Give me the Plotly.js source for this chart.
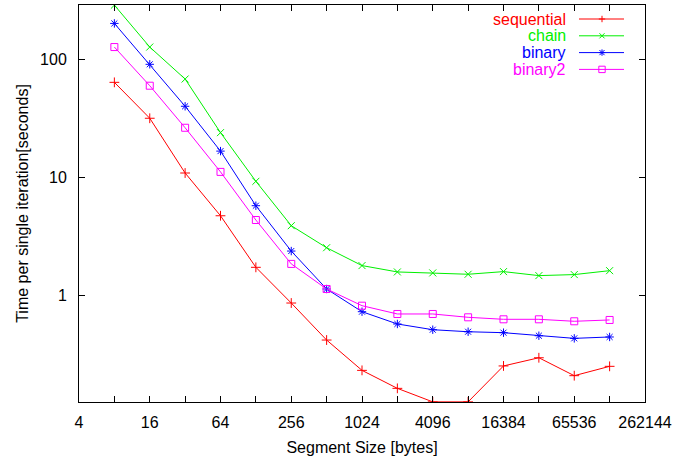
<!DOCTYPE html>
<html><head><meta charset="utf-8">
<script src="https://cdn.plot.ly/plotly-3.0.1.min.js"></script>
<style>html,body{margin:0;padding:0;background:#fff}</style>
</head><body><div id="chart" style="width:688px;height:456px"></div>
<script>
const segmentSizes = [8,16,32,64,128,256,512,1024,2048,4096,8192,16384,32768,65536,131072];
const sequential = [64.3,31.9,10.96,4.76,1.74,0.867,0.421,0.233,0.164,0.126,0.126,0.254,0.298,0.210,0.252];
const chain      = [290,128,68.6,24.1,9.32,3.92,2.55,1.80,1.59,1.56,1.52,1.60,1.48,1.51,1.63];
const binary     = [203,91.4,40.3,16.8,5.79,2.39,1.14,0.732,0.576,0.515,0.495,0.486,0.458,0.435,0.447];
const binary2    = [128,60.2,26.5,11.2,4.38,1.86,1.14,0.823,0.700,0.700,0.656,0.631,0.631,0.607,0.623];
const seriesNames = ['sequential','chain','binary','binary2'];
const seriesColors = ['#ff0000','#00f000','#0000ff','#ff00ff'];
const seriesSymbols = ['cross-thin-open','x-thin-open','asterisk-open','square-open'];
const xTickVals = [4,8,16,32,64,128,256,512,1024,2048,4096,8192,16384,32768,65536,131072,262144];
const xTickText = ['4','','16','','64','','256','','1024','','4096','','16384','','65536','','262144'];
const yTickVals = [1,10,100];
const yTickText = ['1','10','100'];

const allSeries = [sequential, chain, binary, binary2];
const traces = allSeries.map((ys,i)=>({
  x: segmentSizes, y: ys, type:'scatter', mode:'lines+markers', name: seriesNames[i],
  line:{color:seriesColors[i], width:1},
  marker:{symbol:seriesSymbols[i], size:7, color:seriesColors[i], line:{color:seriesColors[i], width:1}},
  showlegend:false
}));

// plot area in pixels
const L=79, R=645, T=5, B=402;
const W=688, H=456;
const px2x = p => (p-L)/(R-L);
const py2y = p => 1-(p-T)/(B-T);

const shapes=[]; const annotations=[];
const rowY0=19, rowStep=16.8, textRight=568, lineA=579, lineB=624, mk=602, s=3.2;
seriesNames.forEach((nm,i)=>{
  const yy = rowY0 + i*rowStep;
  const c = seriesColors[i];
  annotations.push({xref:'paper',yref:'paper',x:px2x(textRight),y:py2y(yy),xanchor:'right',yanchor:'middle',
    text:nm,showarrow:false,font:{family:'Liberation Sans, Arial, sans-serif',size:16,color:c}});
  shapes.push({type:'line',xref:'paper',yref:'paper',x0:px2x(lineA),x1:px2x(lineB),y0:py2y(yy),y1:py2y(yy),line:{color:c,width:1}});
  const ln=(x0,y0,x1,y1)=>shapes.push({type:'line',xref:'paper',yref:'paper',x0:px2x(x0),x1:px2x(x1),y0:py2y(y0),y1:py2y(y1),line:{color:c,width:1}});
  const sym = seriesSymbols[i];
  if(sym.startsWith('cross')||sym.startsWith('asterisk')){ln(mk-s,yy,mk+s,yy);ln(mk,yy-s,mk,yy+s);}
  if(sym.startsWith('x')||sym.startsWith('asterisk')){ln(mk-s*0.8,yy-s*0.8,mk+s*0.8,yy+s*0.8);ln(mk-s*0.8,yy+s*0.8,mk+s*0.8,yy-s*0.8);}
  if(sym.startsWith('square')){shapes.push({type:'rect',xref:'paper',yref:'paper',x0:px2x(mk-s),x1:px2x(mk+s),y0:py2y(yy-s),y1:py2y(yy+s),line:{color:c,width:1}});}
});

const font = {family:'Liberation Sans, Arial, Helvetica, sans-serif', size:16, color:'#000'};
const layout = {
  width:W, height:H,
  margin:{l:L, r:W-R, t:T, b:H-B, pad:0},
  paper_bgcolor:'#fff', plot_bgcolor:'#fff',
  font: font,
  showlegend:false,
  xaxis:{type:'log', range:[Math.log10(4), Math.log10(262144)], tickvals:xTickVals, ticktext:xTickText,
    ticks:'inside', ticklen:6, tickcolor:'#000', showline:true, linecolor:'#000', linewidth:1, mirror:'ticks',
    showgrid:false, zeroline:false, tickfont:{size:16}, ticklabelstandoff:6,
    title:{text:'Segment Size [bytes]', font:{size:16}, standoff:12}},
  yaxis:{type:'log', range:[-0.9008, 2.4636], tickvals:yTickVals, ticktext:yTickText,
    ticks:'inside', ticklen:6, tickcolor:'#000', showline:true, linecolor:'#000', linewidth:1, mirror:'ticks',
    showgrid:false, zeroline:false, tickfont:{size:16}, ticklabelstandoff:8,
    title:{text:'Time per single iteration[seconds]', font:{size:16}, standoff:7}},
  shapes: shapes, annotations: annotations
};
Plotly.newPlot('chart', traces, layout, {displayModeBar:false, staticPlot:true});
</script></body></html>
